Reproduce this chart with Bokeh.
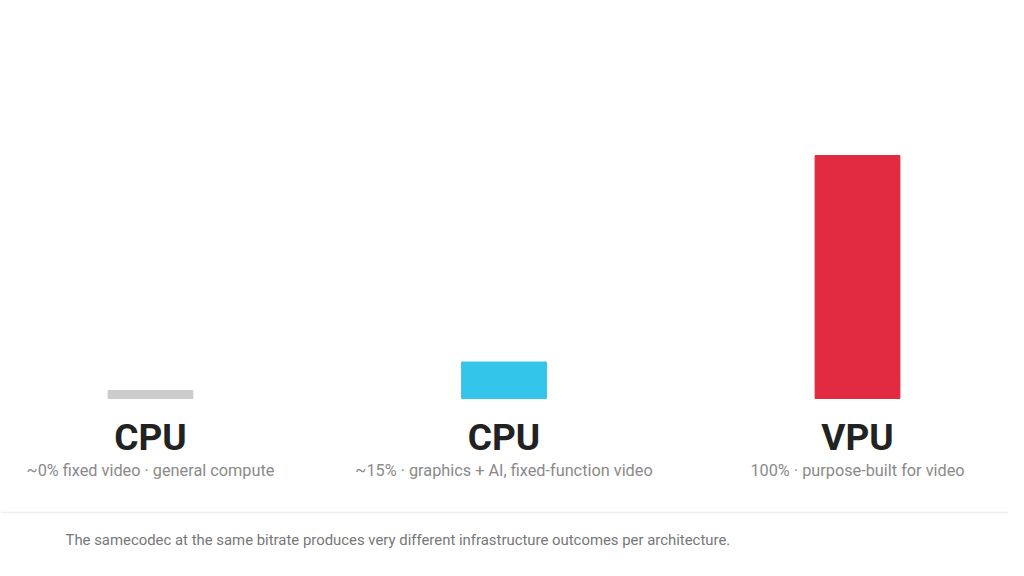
from bokeh.plotting import figure
from bokeh.models import ColumnDataSource, Range1d, Span
from bokeh.core.properties import value
from bokeh.embed import file_html
from bokeh.resources import INLINE

# chart values
names = ["CPU", "CPU", "VPU"]
shares = [3.3, 15, 100]          # bar heights (the first one is a nominal sliver for ~0%)
notes = ["~0% fixed video \u00b7 general compute",
         "~15% \u00b7 graphics + AI, fixed-function video",
         "100% \u00b7 purpose-built for video"]
colors = ["#cccccc", "#33c5ea", "#e22a40"]
footnote = "The samecodec at the same bitrate produces very different infrastructure outcomes per architecture."

W, H = 1008, 560
BASE_PX = 398        # baseline, px from top of figure
PX_PER_UNIT = 2.43   # px per percent
X0_PX, X_STEP = 150, 353.5

pos = list(range(len(names)))
src = ColumnDataSource(dict(x=pos, top=shares, name=names, note=notes, color=colors))

p = figure(width=W, height=H, output_backend="svg", toolbar_location=None,
           x_range=Range1d(-X0_PX / X_STEP, (W - X0_PX) / X_STEP),
           y_range=Range1d(-(H - BASE_PX) / PX_PER_UNIT, BASE_PX / PX_PER_UNIT),
           min_border=0)
p.axis.visible = False
p.grid.visible = False
p.outline_line_color = None

p.vbar(x="x", top="top", bottom=0, width=0.24, color="color", source=src)

p.text(x="x", y=0, text="name", source=src, y_offset=39,
       text_align="center", text_baseline="middle",
       text_font=value("Roboto"), text_font_style="bold",
       text_font_size="37px", text_color="#222222")
p.text(x="x", y=0, text="note", source=src, y_offset=72,
       text_align="center", text_baseline="middle",
       text_font=value("Roboto"), text_font_size="16.3px", text_color="#8a8a8a")

sep = Span(location=-114 / PX_PER_UNIT, dimension="width",
           line_color="#f0f0f0", line_width=1.5)
p.add_layout(sep)
p.text(x=[(65 - X0_PX) / X_STEP], y=[0], text=[footnote], y_offset=141,
       text_align="left", text_baseline="middle",
       text_font=value("Roboto"), text_font_size="14.9px", text_color="#777777")

open("out.html", "w").write(file_html(p, INLINE))
